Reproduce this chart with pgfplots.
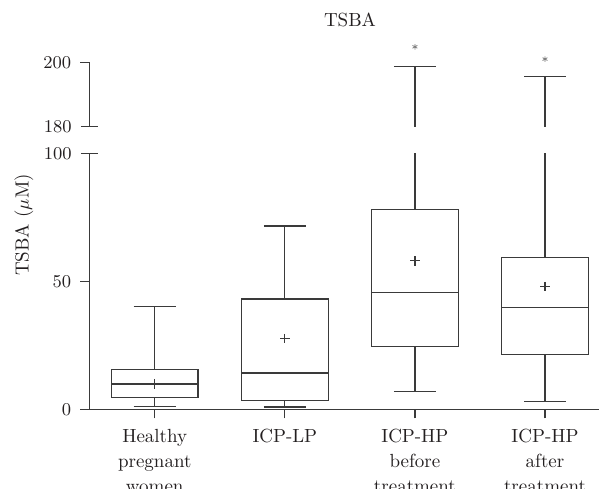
\documentclass[border=0pt]{standalone}
\usepackage{pgfplots}
\pgfplotsset{compat=1.18}
\usepgfplotslibrary{statistics}
\definecolor{linecol}{HTML}{3A3A3A}
\definecolor{txtcol}{HTML}{231F20}
\pgfplotsset{
  common/.style={
    scale only axis,
    width=254.85pt,
    xmin=-0.503, xmax=3.415,
    tick align=outside,
    major tick length=4.5pt,
    every tick/.style={draw=linecol, line width=0.6pt},
    axis line style={draw=linecol, line width=0.6pt},
    every tick label/.append style={font=\fontsize{9.5}{12.5}\selectfont, text=txtcol},
    yticklabel style={xshift=-1pt},
    boxplot/draw direction=y,
    boxplot/every average/.style={/tikz/mark=+, /tikz/mark size=2.4pt, /tikz/mark options={draw=linecol, line width=0.6pt}},
  },
  bx/.style={draw=linecol, line width=0.6pt, solid, fill=none},
}
\begin{document}
\begin{tikzpicture}
\useasboundingbox (0,0) rectangle (299.5pt,244pt);
\clip (0,0) rectangle (299.5pt,244pt);
% lower axis
\begin{axis}[common,
  at={(44.65pt,39.35pt)}, anchor=south west,
  height=128pt,
  ymin=0, ymax=100,
  axis lines*=left,
  ytick={0,50}, extra y ticks={100},
  extra y tick style={tick align=center, major tick length=8.5pt},
  xtick={0,1,2,3},
  xticklabels={{Healthy\\pregnant\\women},{ICP-LP},{ICP-HP\\before\\treatment},{ICP-HP\\after\\treatment}},
  xticklabel style={align=center, yshift=-2pt},
]
\addplot[bx, boxplot prepared={lower whisker=1.0, lower quartile=4.7, median=9.9, upper quartile=15.5, upper whisker=40.3, average=10.0, draw position=0, box extend=0.666, whisker extend=0.323}] coordinates {};
\addplot[bx, boxplot prepared={lower whisker=0.9, lower quartile=3.5, median=14.3, upper quartile=43.1, upper whisker=71.6, average=27.6, draw position=1, box extend=0.666, whisker extend=0.323, every median/.style={line width=1.1pt}}] coordinates {};
\addplot[bx, boxplot prepared={lower whisker=7.0, lower quartile=24.6, median=45.7, upper quartile=77.9, upper whisker=198.7, average=58.0, draw position=2, box extend=0.666, whisker extend=0.323}] coordinates {};
\addplot[bx, boxplot prepared={lower whisker=3.0, lower quartile=21.3, median=39.7, upper quartile=59.2, upper whisker=195.5, average=47.9, draw position=3, box extend=0.666, whisker extend=0.323}] coordinates {};
\end{axis}
% upper axis
\begin{axis}[common,
  at={(44.65pt,180.65pt)}, anchor=south west,
  height=43.47pt,
  ymin=180, ymax=207,
  axis lines*=left,
  x axis line style={draw=none},
  y axis line style={draw=none},
  xtick=\empty,
  ytick={200}, extra y ticks={180},
  extra y tick style={tick align=center, major tick length=8.5pt},
  clip mode=individual,
]
\addplot[bx, boxplot prepared={lower whisker=7.0, lower quartile=24.6, median=45.7, upper quartile=77.9, upper whisker=198.7, average=58.0, draw position=2, box extend=0.666, whisker extend=0.323}] coordinates {};
\addplot[bx, boxplot prepared={lower whisker=3.0, lower quartile=21.3, median=39.7, upper quartile=59.2, upper whisker=195.5, average=47.9, draw position=3, box extend=0.666, whisker extend=0.323}] coordinates {};
\addplot[only marks, mark=asterisk, mark size=1.4pt, mark options={draw=gray, line width=0.4pt}] coordinates {(2,204.8) (3,201.0)};
\draw[linecol, line width=0.6pt] (axis cs:-0.503,180) -- (axis cs:-0.503,200);
\end{axis}
\node[anchor=base, text=txtcol, font=\fontsize{9.5}{12}\selectfont] at (175pt,230.65pt) {TSBA};
\node[rotate=90, text=txtcol, font=\fontsize{9.5}{12}\selectfont] at (12pt,131.5pt) {TSBA ($\mu$M)};
\end{tikzpicture}
\end{document}
